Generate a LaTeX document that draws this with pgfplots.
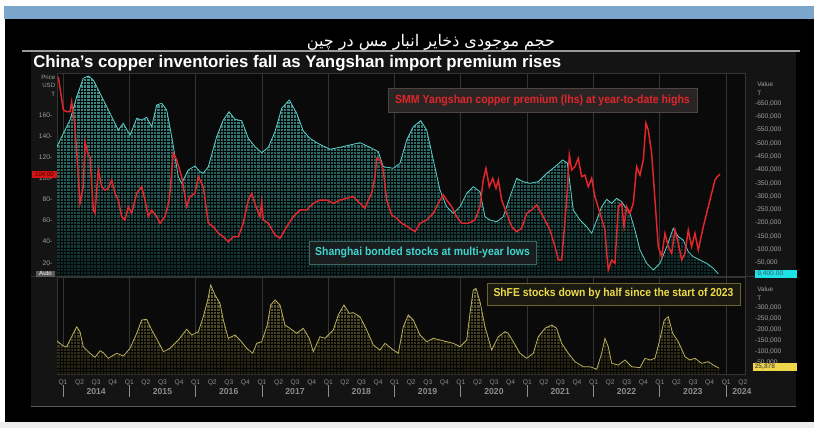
\documentclass[border=0pt]{standalone}
\usepackage{pgfplots}
\pgfplotsset{compat=1.18}
\usepackage{pgfplotstable}
\usetikzlibrary{patterns}
\usepackage{fontspec}
\setmainfont{Liberation Sans}
\newfontfamily\cond{Liberation Sans}[FakeStretch=0.9]
\newfontfamily\arabicfont[Script=Arabic]{DejaVu Sans}
\TeXXeTstate=1

\pgfdeclarepatternformonly{finegrid}{\pgfqpoint{-1pt}{-1pt}}{\pgfqpoint{3.5pt}{3.5pt}}{\pgfqpoint{2.5pt}{2.5pt}}{%
  \pgfsetlinewidth{0.45pt}%
  \pgfpathmoveto{\pgfqpoint{-0.1pt}{0pt}}\pgfpathlineto{\pgfqpoint{2.6pt}{0pt}}%
  \pgfpathmoveto{\pgfqpoint{0pt}{-0.1pt}}\pgfpathlineto{\pgfqpoint{0pt}{2.6pt}}%
  \pgfusepath{stroke}}

\definecolor{bluebar}{HTML}{7BA5CB}
\definecolor{panel}{HTML}{141414}
\definecolor{plotbg}{HTML}{0A0A0A}
\definecolor{gridc}{HTML}{343434}
\definecolor{linegray}{HTML}{9A9A9A}
\definecolor{botgray}{HTML}{EDEDED}
\definecolor{cyanline}{HTML}{5CCBC6}
\definecolor{cyantop}{HTML}{42968F}
\definecolor{cyanbot}{HTML}{0E2726}
\definecolor{redline}{HTML}{E3262B}
\definecolor{oliveline}{HTML}{B9AC5C}
\definecolor{olivetop}{HTML}{6E6838}
\definecolor{olivebot}{HTML}{1E1D10}
\definecolor{labgray}{HTML}{A0A0A0}
\definecolor{qgray}{HTML}{8C8C8C}
\definecolor{yearc}{HTML}{E2E2E2}
\definecolor{anncyan}{HTML}{3FD6D2}
\definecolor{annred}{HTML}{E0262A}
\definecolor{annyel}{HTML}{EDDC4A}
\definecolor{tagred}{HTML}{D41414}
\definecolor{tagcyan}{HTML}{1CE3E6}
\definecolor{tagyel}{HTML}{F2D64A}
\definecolor{autogray}{HTML}{5A5A5A}
\definecolor{redbg}{HTML}{2A2525}
\definecolor{redbd}{HTML}{4E4444}
\definecolor{cyanbg}{HTML}{1A1D1D}
\definecolor{cyanbd}{HTML}{3C6462}
\definecolor{yelbg}{HTML}{1B1A12}
\definecolor{yelbd}{HTML}{6B6430}

% Shanghai bonded stocks, thousand tonnes
\pgfplotstableread{
x y
2013.905 484.9
2013.980 524.8
2014.106 587.5
2014.207 675.1
2014.306 744.3
2014.382 752.9
2014.457 737.9
2014.584 675.1
2014.709 612.7
2014.834 549.9
2014.909 575.1
2015.011 531.1
2015.112 593.9
2015.187 587.5
2015.262 597.7
2015.338 562.3
2015.413 643.9
2015.489 650.3
2015.564 625.1
2015.640 524.8
2015.739 374.4
2015.790 349.6
2015.890 399.6
2015.991 414.6
2016.066 393.2
2016.116 387.2
2016.192 412.0
2016.318 524.8
2016.418 587.5
2016.504 618.7
2016.594 590.2
2016.695 584.9
2016.795 518.7
2016.896 487.2
2016.997 464.6
2017.097 484.9
2017.198 543.6
2017.299 631.5
2017.413 662.7
2017.525 612.7
2017.624 546.2
2017.725 518.7
2017.827 502.2
2018.027 477.4
2018.178 484.9
2018.329 493.6
2018.480 502.2
2018.631 484.9
2018.756 468.4
2018.831 412.0
2018.982 406.0
2019.083 424.8
2019.184 512.4
2019.284 562.3
2019.395 584.9
2019.486 549.9
2019.585 437.2
2019.686 324.4
2019.787 261.6
2019.887 236.8
2019.988 261.6
2020.089 312.0
2020.189 336.8
2020.290 318.0
2020.365 224.0
2020.440 211.6
2020.541 205.2
2020.641 224.0
2020.742 299.2
2020.843 368.4
2020.943 355.6
2021.044 349.6
2021.169 355.6
2021.296 387.2
2021.421 412.0
2021.537 437.2
2021.607 425.9
2021.697 249.2
2021.798 211.6
2021.899 186.4
2021.975 161.6
2022.050 211.6
2022.125 261.6
2022.201 289.4
2022.276 274.4
2022.351 293.2
2022.427 280.4
2022.477 261.6
2022.552 236.8
2022.627 174.0
2022.703 98.9
2022.804 48.9
2022.904 23.7
2023.005 48.9
2023.106 111.3
2023.205 180.4
2023.281 148.9
2023.356 136.5
2023.431 92.5
2023.507 73.7
2023.608 61.3
2023.709 48.9
2023.808 30.1
2023.884 9.4
}\bonded

% SMM Yangshan copper premium, USD/t
\pgfplotstableread{
x y
2013.929 196.3
2014.005 164.8
2014.056 163.1
2014.106 163.1
2014.131 172.6
2014.181 148.9
2014.231 101.5
2014.256 76.3
2014.306 92.0
2014.332 134.7
2014.382 122.1
2014.407 120.5
2014.457 70.0
2014.483 66.8
2014.532 107.9
2014.584 92.0
2014.633 88.9
2014.683 90.5
2014.734 98.4
2014.784 85.8
2014.834 79.4
2014.885 63.6
2014.935 60.5
2014.985 73.1
2015.036 66.8
2015.112 85.8
2015.187 92.0
2015.237 79.4
2015.287 63.6
2015.338 70.0
2015.413 63.6
2015.463 57.4
2015.538 63.6
2015.603 79.4
2015.664 123.7
2015.715 117.4
2015.790 101.5
2015.866 73.1
2015.916 82.6
2015.991 85.8
2016.041 101.5
2016.116 92.0
2016.192 57.4
2016.267 54.1
2016.342 47.9
2016.418 44.6
2016.493 39.9
2016.569 44.6
2016.644 44.6
2016.719 57.4
2016.795 79.4
2016.846 85.8
2016.911 73.1
2016.971 63.6
2016.997 77.8
2017.021 60.5
2017.097 57.4
2017.198 46.3
2017.273 43.1
2017.374 54.1
2017.474 63.6
2017.575 70.0
2017.676 70.0
2017.775 76.3
2017.876 79.4
2017.977 79.4
2018.077 76.3
2018.178 79.4
2018.279 81.1
2018.379 82.6
2018.480 76.3
2018.555 71.6
2018.605 79.4
2018.656 85.8
2018.706 101.5
2018.732 119.0
2018.781 117.4
2018.831 107.9
2018.882 79.4
2018.958 65.2
2019.033 62.1
2019.109 57.4
2019.158 55.7
2019.234 52.6
2019.309 49.4
2019.385 57.4
2019.486 60.5
2019.585 66.8
2019.686 79.4
2019.736 84.2
2019.787 79.4
2019.863 73.1
2019.938 63.6
2020.014 57.4
2020.113 57.4
2020.214 60.5
2020.290 73.1
2020.339 98.4
2020.380 109.5
2020.430 92.0
2020.481 100.0
2020.531 90.5
2020.566 98.4
2020.617 79.4
2020.692 66.8
2020.768 54.1
2020.843 49.4
2020.918 52.6
2020.994 66.8
2021.069 70.0
2021.145 74.7
2021.244 63.6
2021.345 51.0
2021.421 35.2
2021.471 22.6
2021.522 22.6
2021.597 79.4
2021.637 122.1
2021.673 107.9
2021.722 111.0
2021.772 119.0
2021.823 101.5
2021.873 103.1
2021.923 92.0
2021.974 100.0
2022.024 82.6
2022.100 66.8
2022.175 51.0
2022.201 28.9
2022.225 13.1
2022.276 22.6
2022.326 19.4
2022.376 73.1
2022.427 76.3
2022.462 54.1
2022.502 73.1
2022.552 66.8
2022.602 76.3
2022.653 111.0
2022.703 103.1
2022.753 117.4
2022.793 152.2
2022.828 145.8
2022.879 123.7
2022.929 79.4
2022.979 35.2
2023.030 25.7
2023.080 47.9
2023.130 35.2
2023.181 28.9
2023.231 51.0
2023.281 38.4
2023.332 22.6
2023.382 28.9
2023.431 51.0
2023.482 35.2
2023.532 47.9
2023.582 32.0
2023.658 54.1
2023.733 73.1
2023.784 85.8
2023.834 98.4
2023.869 101.5
2023.910 104.0
}\premium

% ShFE copper stocks, thousand tonnes
\pgfplotstableread{
x y
2013.905 151.3
2014.005 127.3
2014.056 124.1
2014.131 169.5
2014.207 215.0
2014.256 192.3
2014.306 124.1
2014.407 94.1
2014.483 75.9
2014.558 105.9
2014.608 96.8
2014.683 71.4
2014.810 94.1
2014.910 81.8
2015.011 116.8
2015.112 185.0
2015.187 245.4
2015.262 248.6
2015.338 200.0
2015.437 146.8
2015.513 101.4
2015.614 116.8
2015.739 154.5
2015.866 203.2
2015.941 177.3
2016.041 192.3
2016.116 260.4
2016.183 336.3
2016.228 404.5
2016.293 359.1
2016.368 321.3
2016.418 245.4
2016.493 162.3
2016.594 177.3
2016.670 154.5
2016.771 116.8
2016.861 94.1
2016.922 139.5
2016.997 146.8
2017.081 222.7
2017.133 313.6
2017.198 336.3
2017.273 313.6
2017.348 222.7
2017.424 207.7
2017.525 185.0
2017.624 207.7
2017.715 162.3
2017.775 101.4
2017.876 169.5
2017.952 162.3
2018.077 200.0
2018.152 268.2
2018.238 313.6
2018.318 275.9
2018.379 278.6
2018.480 260.4
2018.581 200.0
2018.680 131.8
2018.781 109.1
2018.857 139.5
2018.982 109.1
2019.057 94.1
2019.133 215.0
2019.208 268.2
2019.284 245.4
2019.385 177.0
2019.486 146.8
2019.585 162.3
2019.686 154.5
2019.787 146.8
2019.887 139.5
2019.988 124.1
2020.089 154.5
2020.139 275.9
2020.189 381.8
2020.229 389.5
2020.290 328.6
2020.365 215.0
2020.466 109.1
2020.566 169.5
2020.667 192.3
2020.716 185.0
2020.792 146.8
2020.893 94.1
2020.994 71.4
2021.094 94.1
2021.169 169.5
2021.270 207.7
2021.371 222.7
2021.446 207.7
2021.522 139.5
2021.622 94.1
2021.722 55.9
2021.848 33.2
2021.949 33.2
2022.050 21.4
2022.125 94.1
2022.175 162.3
2022.225 124.1
2022.276 48.6
2022.376 40.9
2022.477 63.6
2022.578 33.2
2022.703 28.6
2022.778 71.4
2022.854 63.6
2022.929 71.4
2022.994 146.8
2023.069 245.4
2023.130 260.4
2023.196 185.0
2023.281 146.8
2023.382 78.6
2023.457 63.6
2023.532 71.4
2023.633 48.6
2023.733 55.9
2023.808 40.9
2023.899 25.9
}\shfe

\pgfplotsset{
  panelaxis/.style={
    scale only axis, width=516pt,
    xmin=2013.9095, xmax=2024.287,
    axis line style={draw=gridc},
    every tick label/.append style={font=\fontsize{5}{5}\selectfont, text=labgray},
    tick style={draw=none},
  },
}

\begin{document}
\begin{tikzpicture}[x=0.75pt,y=-0.75pt]
\useasboundingbox (0,0) rectangle (814,428);
\fill[white] (0,0) rectangle (814,428);
\fill[bluebar] (4,6) rectangle (814,19);
\fill[black] (5,19) rectangle (814,422);
\fill[botgray] (0,422) rectangle (814,428);
\fill[panel] (31,51) rectangle (796,407);
\draw[line width=0.8pt, linegray] (22,51) -- (800,51);
\draw[gridc!80!white] (31,406.5) -- (796,406.5);

% Persian title
\node[text=white, anchor=base, inner sep=0] at (431,47)
  {\resizebox{186pt}{!}{\arabicfont\beginR حجم موجودی ذخایر انبار مس در چین\endR}};
% English title
\node[text=white, anchor=base west, inner sep=0] at (33,68)
  {\resizebox{396pt}{!}{\bfseries China's copper inventories fall as Yangshan import premium rises}};

% ---------- upper panel: bonded stocks (rhs) ----------
\begin{axis}[panelaxis,
  at={(42.75pt,-207pt)}, anchor=south west, height=152.25pt,
  ymin=1.1, ymax=764.2,
  axis background/.style={fill=plotbg},
  xtick={2014,2015,...,2024}, xticklabels={}, xmajorgrids,
  major grid style={gridc, line width=0.5pt},
  ytick={50,100,...,650},
  yticklabels={{-50,000},{-100,000},{-150,000},{-200,000},{-250,000},{-300,000},{-350,000},{-400,000},{-450,000},{-500,000},{-550,000},{-600,000},{-650,000}},
  ytick pos=right,
  yticklabel style={xshift=4pt},
]
\addplot[draw=none, top color=cyantop, bottom color=cyanbot] table {\bonded} \closedcycle;
\addplot[draw=none, pattern=finegrid, pattern color=black!85!cyanbot] table {\bonded} \closedcycle;
\addplot[cyanline, line width=0.6pt] table {\bonded};
\end{axis}

% ---------- upper panel: premium (lhs) ----------
\begin{axis}[panelaxis,
  at={(42.75pt,-207pt)}, anchor=south west, height=152.25pt,
  ymin=7.4, ymax=199.8,
  axis line style={draw=none},
  xtick=\empty,
  ytick={20,40,...,160},
  yticklabels={20-,40-,60-,80-,100-,120-,140-,160-},
  ytick pos=left,
]
\addplot[redline, line width=1.1pt] table {\premium};
\end{axis}

% ---------- lower panel: ShFE stocks ----------
\begin{axis}[panelaxis,
  at={(42.75pt,-280.5pt)}, anchor=south west, height=72.75pt,
  ymin=0, ymax=440.9,
  axis background/.style={fill=plotbg},
  xtick={2014,2014.25,...,2024.25},
  xticklabels={Q1,Q2,Q3,Q4,Q1,Q2,Q3,Q4,Q1,Q2,Q3,Q4,Q1,Q2,Q3,Q4,Q1,Q2,Q3,Q4,Q1,Q2,Q3,Q4,Q1,Q2,Q3,Q4,Q1,Q2,Q3,Q4,Q1,Q2,Q3,Q4,Q1,Q2,Q3,Q4,Q1,Q2},
  xticklabel style={text=qgray, yshift=-1pt},
  extra x ticks={2014.5,2015.5,2016.5,2017.5,2018.5,2019.5,2020.5,2021.5,2022.5,2023.5,2024.24},
  extra x tick labels={2014,2015,2016,2017,2018,2019,2020,2021,2022,2023,2024},
  extra x tick style={tick label style={font=\bfseries\fontsize{6.5}{7}\selectfont, text=yearc, yshift=-6.5pt}},
  ytick={50,100,...,300},
  yticklabels={{-50,000},{-100,000},{-150,000},{-200,000},{-250,000},{-300,000}},
  ytick pos=right,
  yticklabel style={xshift=4pt},
]
\pgfplotsinvokeforeach{2014,...,2024}{
  \draw[gridc, line width=0.5pt] (axis cs:#1,0) -- (axis cs:#1,440.9);
}
\addplot[draw=none, top color=olivetop, bottom color=olivebot] table {\shfe} \closedcycle;
\addplot[draw=none, pattern=finegrid, pattern color=black!85!olivebot] table {\shfe} \closedcycle;
\addplot[oliveline, line width=0.6pt] table {\shfe};
\end{axis}

\draw[gridc] (31,276.5) -- (796,276.5);
\foreach \i in {0,...,10} \draw[qgray, line width=0.5pt] ({63+66.3*\i},385) -- ++(0,12);

% left axis heading
\begin{scope}[every node/.style={font=\fontsize{4.6}{5}\selectfont, text=labgray, anchor=east, inner sep=0}]
\node at (55.5,77) {Price};
\node at (55.5,85.5) {USD};
\node at (55.5,94) {T};
\end{scope}
\begin{scope}[every node/.style={font=\fontsize{4.8}{5}\selectfont, text=labgray, anchor=west, inner sep=0}]
\node at (757,84) {Value};
\node at (757,93) {T};
\node at (757,289) {Value};
\node at (757,298) {T};
\end{scope}

% value tags
\fill[tagred] (32,171) rectangle (57,177.5);
\node[font=\fontsize{4.6}{5}\selectfont, text=black!75!red, inner sep=0] at (44.5,174.3) {104.00};
\fill[autogray] (36,270.5) rectangle (55,277);
\node[font=\fontsize{4.6}{5}\selectfont, text=white, inner sep=0] at (45.5,273.8) {Auto};
\fill[tagcyan] (755,270) rectangle (797,278);
\node[font=\fontsize{5}{5}\selectfont, text=black!70!cyan, inner sep=0, anchor=west] at (757,274) {9,400.00};
\fill[tagyel] (753,363) rectangle (797,371);
\node[font=\bfseries\fontsize{5}{5}\selectfont, text=black!70!yellow, inner sep=0, anchor=west] at (754.5,367) {25,878};

% annotations
\node[draw=redbd, fill=redbg, minimum width=231.75pt, minimum height=18pt, inner sep=0] at (542.5,100)
  {\resizebox{221pt}{!}{\cond\bfseries\color{annred}SMM Yangshan copper premium (lhs) at year-to-date highs}};
\node[draw=cyanbd, fill=cyanbg, minimum width=170.25pt, minimum height=17.25pt, inner sep=0] at (422.5,252.5)
  {\resizebox{161pt}{!}{\cond\bfseries\color{anncyan}Shanghai bonded stocks at multi-year lows}};
\node[draw=yelbd, fill=yelbg, minimum width=189.75pt, minimum height=16.5pt, inner sep=0] at (613.5,294)
  {\resizebox{180pt}{!}{\cond\bfseries\color{annyel}ShFE stocks down by half since the start of 2023}};
\end{tikzpicture}
\end{document}
